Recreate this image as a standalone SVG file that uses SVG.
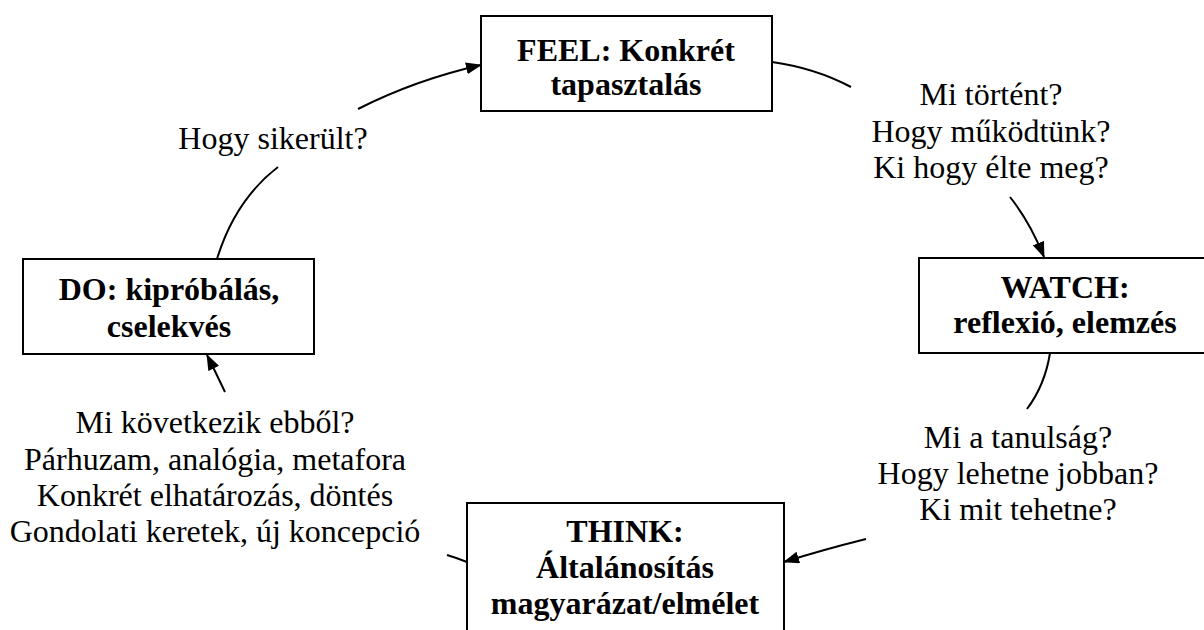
<svg xmlns="http://www.w3.org/2000/svg" width="1204" height="630" viewBox="0 0 1204 630">
<style>
.box{fill:#fff;stroke:#000;stroke-width:2}
.t{font-family:"Liberation Serif","Times New Roman",serif;font-size:32px;fill:#000;text-anchor:middle}
.b{font-weight:bold}
.c{fill:none;stroke:#000;stroke-width:2}
</style>
<defs>
<marker id="ah" markerUnits="userSpaceOnUse" markerWidth="16" markerHeight="12" refX="15" refY="6" orient="auto">
<path d="M0,0 L16,6 L0,12 Z" fill="#000"/>
</marker>
</defs>
<rect width="1204" height="630" fill="#fff"/>
<g id="connectors">
<path class="c" d="M217,259 Q235,200 278,167"/>
<path class="c" d="M358,109 Q415,80 481,65" marker-end="url(#ah)"/>
<path class="c" d="M772,62 Q815,68 851,87"/>
<path class="c" d="M1010,197 Q1030,222 1044,257" marker-end="url(#ah)"/>
<path class="c" d="M1050,353 Q1045,385 1027,409"/>
<path class="c" d="M866,539 Q822,550 784,562" marker-end="url(#ah)"/>
<path class="c" d="M467,562 Q457,558 447,555"/>
<path class="c" d="M225,392 Q216,373 207,355" marker-end="url(#ah)"/>
</g>
<g id="feel">
<rect class="box" x="481" y="16" width="291" height="95"/>
<text class="t b" x="626" y="61">FEEL: Konkrét</text>
<text class="t b" x="626" y="95">tapasztalás</text>
</g>
<g id="watch">
<rect class="box" x="919" y="258" width="300" height="95"/>
<text class="t b" x="1065" y="298">WATCH:</text>
<text class="t b" x="1065" y="333">reflexió, elemzés</text>
</g>
<g id="think">
<rect class="box" x="467" y="503" width="317" height="140"/>
<text class="t b" x="625" y="542">THINK:</text>
<text class="t b" x="625" y="578">Általánosítás</text>
<text class="t b" x="625" y="614">magyarázat/elmélet</text>
</g>
<g id="do">
<rect class="box" x="23" y="259" width="291" height="95"/>
<text class="t b" x="169" y="300">DO: kipróbálás,</text>
<text class="t b" x="169" y="337">cselekvés</text>
</g>
<g id="label-feel-watch">
<text class="t" x="991" y="105">Mi történt?</text>
<text class="t" x="991" y="142">Hogy működtünk?</text>
<text class="t" x="991" y="178">Ki hogy élte meg?</text>
</g>
<g id="label-watch-think">
<text class="t" x="1018" y="448">Mi a tanulság?</text>
<text class="t" x="1018" y="484">Hogy lehetne jobban?</text>
<text class="t" x="1018" y="520">Ki mit tehetne?</text>
</g>
<g id="label-think-do">
<text class="t" x="215" y="433">Mi következik ebből?</text>
<text class="t" x="215" y="470">Párhuzam, analógia, metafora</text>
<text class="t" x="215" y="506">Konkrét elhatározás, döntés</text>
<text class="t" x="215" y="542">Gondolati keretek, új koncepció</text>
</g>
<g id="label-do-feel">
<text class="t" x="273" y="149">Hogy sikerült?</text>
</g>
</svg>
